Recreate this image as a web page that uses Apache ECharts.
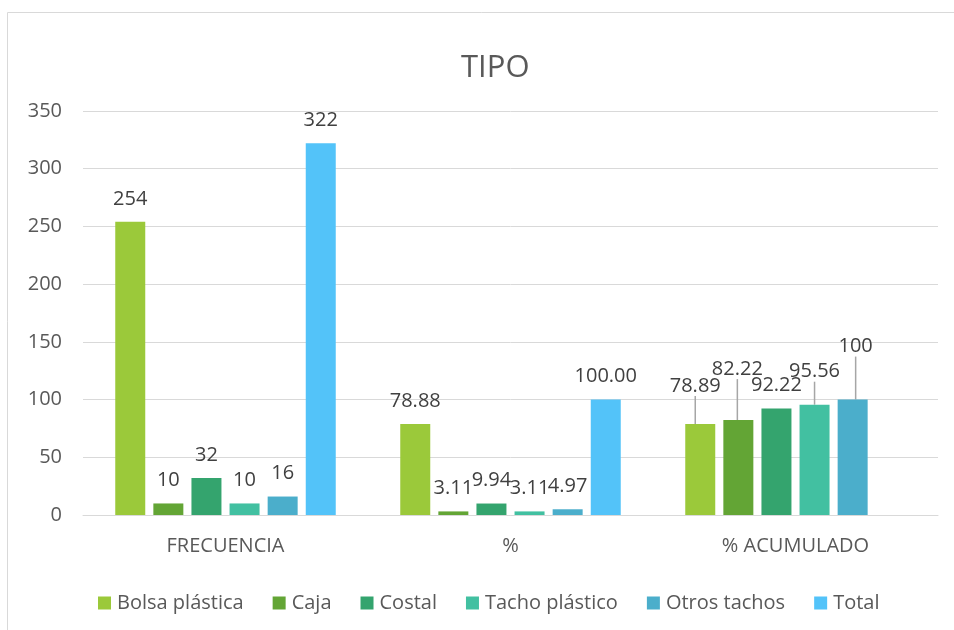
<!DOCTYPE html>
<html>
<head>
<meta charset="utf-8">
<script src="https://cdn.jsdelivr.net/npm/echarts@6/dist/echarts.min.js"></script>
<style>html,body{margin:0;padding:0;background:#fff}#c{width:954px;height:630px}</style>
</head>
<body>
<div id="c"></div>
<script>
const categories = ['FRECUENCIA', '%', '% ACUMULADO'];
const seriesNames = ['Bolsa plástica', 'Caja', 'Costal', 'Tacho plástico', 'Otros tachos', 'Total'];
const bolsa = [254, 78.88, 78.89];
const caja = [10, 3.11, 82.22];
const costal = [32, 9.94, 92.22];
const tacho = [10, 3.11, 95.56];
const otros = [16, 4.97, 100];
const total = [322, 100.00, null];
const yTicks = { min: 0, max: 350, interval: 50 };

const colors = ['#9BC93A', '#63A535', '#34A46E', '#42C0A1', '#4BAECB', '#53C3F9'];
const allData = [bolsa, caja, costal, tacho, otros, total];
// label moves (with leader lines) for the cumulative group, per series
const moves = [[-5, -15], [-1, -28], [0, 0], [0, -10], [3, -30], [0, 0]];

const FONT = 'Open Sans';
const chart = echarts.init(document.getElementById('c'));
chart.setOption({
  animation: false,
  textStyle: { fontFamily: FONT },
  graphic: [{
    type: 'rect', shape: { x: 7.5, y: 12.5, width: 1000, height: 700 },
    style: { fill: 'none', stroke: '#d9d9d9', lineWidth: 1 }, z: -1
  }],
  title: {
    text: 'TIPO', left: 456, top: 48,
    textStyle: { fontFamily: FONT, fontSize: 31, fontWeight: 'normal', color: '#595959' }
  },
  legend: {
    data: seriesNames, left: 93, top: 588, itemWidth: 13, itemHeight: 13, itemGap: 29,
    icon: 'rect',
    textStyle: { fontFamily: FONT, fontSize: 20, color: '#595959', padding: [0, 0, 0, 1] }
  },
  grid: { left: 83, right: 16, top: 111, bottom: 115, containLabel: false },
  xAxis: {
    type: 'category', data: categories,
    axisLine: { lineStyle: { color: '#d9d9d9', width: 1 } },
    axisTick: { show: false },
    axisLabel: { fontFamily: FONT, fontSize: 20, color: '#595959', margin: 21 }
  },
  yAxis: {
    type: 'value', min: yTicks.min, max: yTicks.max, interval: yTicks.interval,
    axisLine: { show: false }, axisTick: { show: false },
    splitLine: { lineStyle: { color: '#d9d9d9', width: 1 } },
    axisLabel: { fontFamily: FONT, fontSize: 20, color: '#595959', margin: 21 }
  },
  series: seriesNames.map((name, si) => {
    const moved = moves[si][0] !== 0 || moves[si][1] !== 0;
    return {
      name, type: 'bar', barWidth: 30, barGap: '27%',
      data: allData[si].map((v, di) => ({
        value: v,
        labelLine: { show: di === 2 && moved }
      })),
      itemStyle: { color: colors[si] },
      label: {
        show: true, position: 'top', distance: 13,
        fontFamily: FONT, fontSize: 20, color: '#404040',
        formatter: p => p.value == null ? '' : (p.dataIndex === 1 ? Number(p.value).toFixed(2) : String(p.value))
      },
      labelLine: { show: false, lineStyle: { color: '#a6a6a6', width: 1.5 } },
      labelLayout: p => {
        if (p.dataIndex !== 2 || !moved) return {};
        const m = moves[si];
        return { dx: m[0], dy: m[1] };
      }
    };
  })
});
</script>
</body>
</html>
